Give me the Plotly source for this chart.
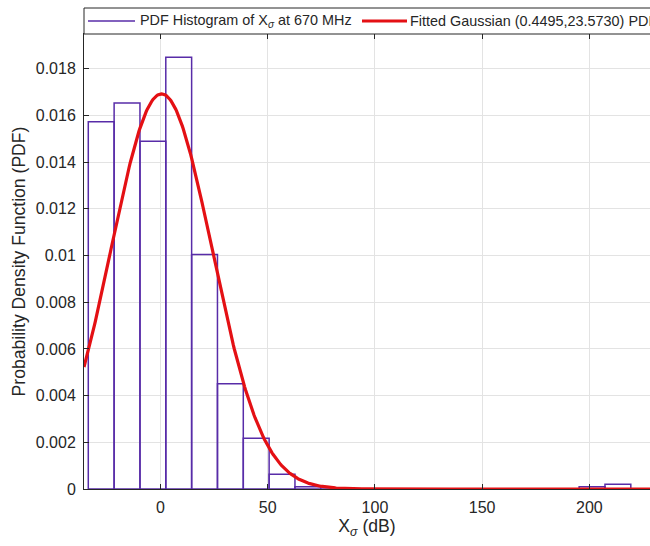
import numpy as np
import plotly.graph_objects as go

# ---- data ----
bin_edges = [-33.7, -21.65, -9.6, 2.45, 14.5, 26.55, 38.6, 50.65, 62.7, 74.75,
             86.8, 98.85, 110.9, 122.95, 135.0, 147.05, 159.1, 171.15, 183.2,
             195.25, 207.3, 219.35]
pdf_values = [0.01573, 0.01653, 0.01490, 0.01849, 0.01005, 0.00451, 0.00217,
              0.00063, 0.00010, 0, 0, 0, 0, 0, 0, 0, 0, 0, 0, 0.00010, 0.00020]
fit_mu = 0.4495
fit_sigma = 23.5730
x_tick_vals = [0, 50, 100, 150, 200]
x_tick_text = ["0", "50", "100", "150", "200"]
y_tick_vals = [0, 0.002, 0.004, 0.006, 0.008, 0.010, 0.012, 0.014, 0.016, 0.018]
y_tick_text = ["0", "0.002", "0.004", "0.006", "0.008", "0.01", "0.012",
               "0.014", "0.016", "0.018"]
hist_name = "PDF Histogram of X<sub><i>σ</i></sub> at 670 MHz"
fit_name = "Fitted Gaussian (0.4495,23.5730) PDF"

x_range = [-35.7, 228.3]
y_range = [0, 0.01949]

# ---- geometry ----
W, H = 650, 546
ML, MR, MT, MB = 84, 0, 34, 57
PW = W - ML - MR
PH = H - MT - MB

centers = [(a + b) / 2 for a, b in zip(bin_edges[:-1], bin_edges[1:])]
widths = [b - a for a, b in zip(bin_edges[:-1], bin_edges[1:])]

xc = np.linspace(x_range[0], x_range[1], 600)
yc = np.exp(-(xc - fit_mu) ** 2 / (2 * fit_sigma ** 2)) / (fit_sigma * np.sqrt(2 * np.pi))

PURPLE = "rgb(88,44,168)"
RED = "rgb(228,16,20)"
DARK = "#262626"
GRID = "#e3e3e3"
FONT = "Liberation Sans, Arial, sans-serif"

fig = go.Figure()
fig.add_trace(go.Bar(
    x=centers, y=pdf_values, width=widths,
    marker=dict(color="rgba(255,255,255,0)", line=dict(color=PURPLE, width=1.5)),
    name=hist_name, showlegend=False,
))
fig.add_trace(go.Scatter(
    x=xc, y=yc, mode="lines", line=dict(color=RED, width=3.2),
    name=fit_name, showlegend=False,
))


def px_x(p):
    return (p - ML) / PW


def px_y(p):
    return (H - MB - p) / PH


# manual legend box (above axes, spanning the width, cut at the right)
shapes = [
    dict(type="rect", xref="paper", yref="paper", x0=0, x1=1.2,
         y0=1, y1=px_y(8), line=dict(color=DARK, width=1), fillcolor="white",
         layer="above"),
    dict(type="line", xref="paper", yref="paper", x0=px_x(88), x1=px_x(135),
         y0=px_y(21), y1=px_y(21), line=dict(color=PURPLE, width=1.5)),
    dict(type="line", xref="paper", yref="paper", x0=px_x(362), x1=px_x(407),
         y0=px_y(21), y1=px_y(21), line=dict(color=RED, width=3.2)),
]
annotations = [
    dict(xref="paper", yref="paper", x=px_x(138), y=px_y(21), text=hist_name,
         showarrow=False, xanchor="left", yanchor="middle",
         font=dict(family=FONT, size=14.4, color=DARK)),
    dict(xref="paper", yref="paper", x=px_x(408), y=px_y(21), text=fit_name,
         showarrow=False, xanchor="left", yanchor="middle",
         font=dict(family=FONT, size=14.4, color=DARK)),
]

fig.update_layout(
    width=W, height=H,
    margin=dict(l=ML, r=MR, t=MT, b=MB, pad=0, autoexpand=False),
    paper_bgcolor="white", plot_bgcolor="white",
    font=dict(family=FONT, size=16, color=DARK),
    bargap=0, showlegend=False, hovermode=False,
    shapes=shapes, annotations=annotations,
    xaxis=dict(
        range=x_range, tickvals=x_tick_vals, ticktext=x_tick_text,
        automargin=False,
        showgrid=True, gridcolor=GRID, gridwidth=1, zeroline=False,
        showline=True, linecolor=DARK, linewidth=1, mirror="ticks",
        ticks="inside", ticklen=5, tickcolor=DARK, ticklabelstandoff=4,
        tickfont=dict(size=16, color=DARK),
        title=dict(text="X<sub><i>σ</i></sub> (dB)", font=dict(size=17.6, color=DARK),
                   standoff=2),
    ),
    yaxis=dict(
        range=y_range, tickvals=y_tick_vals, ticktext=y_tick_text,
        automargin=False,
        showgrid=True, gridcolor=GRID, gridwidth=1, zeroline=False,
        showline=True, linecolor=DARK, linewidth=1, mirror=False,
        ticks="inside", ticklen=5, tickcolor=DARK, ticklabelstandoff=4,
        tickfont=dict(size=16, color=DARK),
        title=dict(text="Probability Density Function (PDF)",
                   font=dict(size=17.6, color=DARK), standoff=5),
    ),
)

fig.write_html(
    "out.html",
    config={"displayModeBar": False, "staticPlot": True},
    post_script="document.body.style.margin='0';document.body.style.overflow='hidden';",
)
